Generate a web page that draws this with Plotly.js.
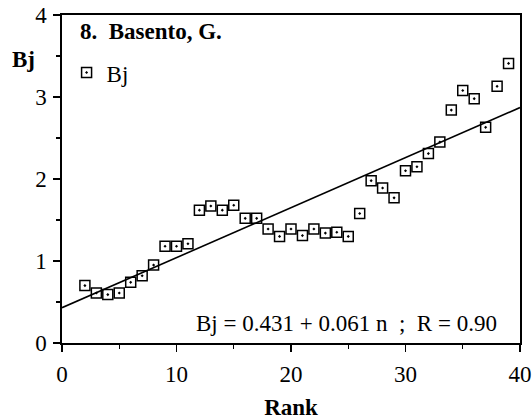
<!DOCTYPE html>
<html>
<head>
<meta charset="utf-8">
<script src="https://cdn.plot.ly/plotly-3.0.1.min.js"></script>
<style>html,body{margin:0;padding:0;background:#fff;}#chart{width:532px;height:420px;}</style>
</head>
<body>
<div id="chart"></div>
<script>
const rank = [2,3,4,5,6,7,8,9,10,11,12,13,14,15,16,17,18,19,20,21,22,23,24,25,26,27,28,29,30,31,32,33,34,35,36,37,38,39];
const bj = [0.70,0.61,0.59,0.61,0.74,0.82,0.95,1.18,1.18,1.21,1.62,1.67,1.62,1.68,1.52,1.52,1.39,1.30,1.39,1.31,1.39,1.34,1.35,1.30,1.58,1.98,1.89,1.77,2.10,2.15,2.31,2.45,2.84,3.08,2.98,2.63,3.13,3.41];
const fitX = [0, 40];
const intercept = 0.431, slope = 0.061;
const fitY = fitX.map(n => intercept + slope * n);

const font = "Liberation Serif";
const data = [
  {x: rank, y: bj, type: 'scatter', mode: 'markers', name: 'Bj',
   marker: {symbol: 'square-open-dot', size: 10, color: '#000', line: {width: 1.5, color: '#000'}},
   cliponaxis: false},
  {x: fitX, y: fitY, type: 'scatter', mode: 'lines', showlegend: false,
   line: {color: '#000', width: 1.6}}
];
const layout = {
  width: 532, height: 420,
  margin: {l: 62, r: 12, t: 15, b: 77},
  paper_bgcolor: '#fff', plot_bgcolor: '#fff',
  font: {family: font, color: '#000', size: 22},
  showlegend: true,
  legend: {x: 0.01, y: 0.89, xanchor: 'left', yanchor: 'top', bgcolor: 'rgba(0,0,0,0)',
           font: {family: font, size: 23, color: '#000'}, itemwidth: 30, tracegroupgap: 0},
  xaxis: {range: [0, 40], tickvals: [0,10,20,30,40], ticks: 'outside', ticklen: 7, tickwidth: 1.5,
          minor: {tickvals: [5,15,25,35], ticks: 'outside', ticklen: 4, tickwidth: 1.2, tickcolor: '#000'},
          showgrid: false, zeroline: false, showline: true, linecolor: '#000', linewidth: 1.6, mirror: true,
          tickfont: {family: font, size: 23}, tickcolor: '#000', ticklabelstandoff: 3,
          title: {text: '<b>Rank</b>', font: {family: font, size: 23}, standoff: 14}},
  yaxis: {range: [0, 4], tickvals: [0,1,2,3,4], ticks: 'outside', ticklen: 7, tickwidth: 1.5,
          minor: {tickvals: [0.5,1.5,2.5,3.5], ticks: 'outside', ticklen: 4, tickwidth: 1.2, tickcolor: '#000'},
          showgrid: false, zeroline: false, showline: true, linecolor: '#000', linewidth: 1.6, mirror: true,
          tickfont: {family: font, size: 23}, tickcolor: '#000', ticklabelstandoff: 2},
  annotations: [
    {text: '<b>8.  Basento, G.</b>', xref: 'paper', yref: 'paper', x: 0.035, y: 0.995, xanchor: 'left', yanchor: 'top',
     showarrow: false, font: {family: font, size: 23}},
    {text: '<b>Bj</b>', xref: 'paper', yref: 'paper', x: -0.085, y: 0.865, xanchor: 'center', yanchor: 'middle',
     showarrow: false, font: {family: font, size: 23}},
    {text: 'Bj = 0.431 + 0.061 n  ;  R = 0.90', xref: 'paper', yref: 'paper', x: 0.955, y: 0.015,
     xanchor: 'right', yanchor: 'bottom', showarrow: false, font: {family: font, size: 23}}
  ]
};
Plotly.newPlot('chart', data, layout, {displayModeBar: false, staticPlot: true});
</script>
</body>
</html>
